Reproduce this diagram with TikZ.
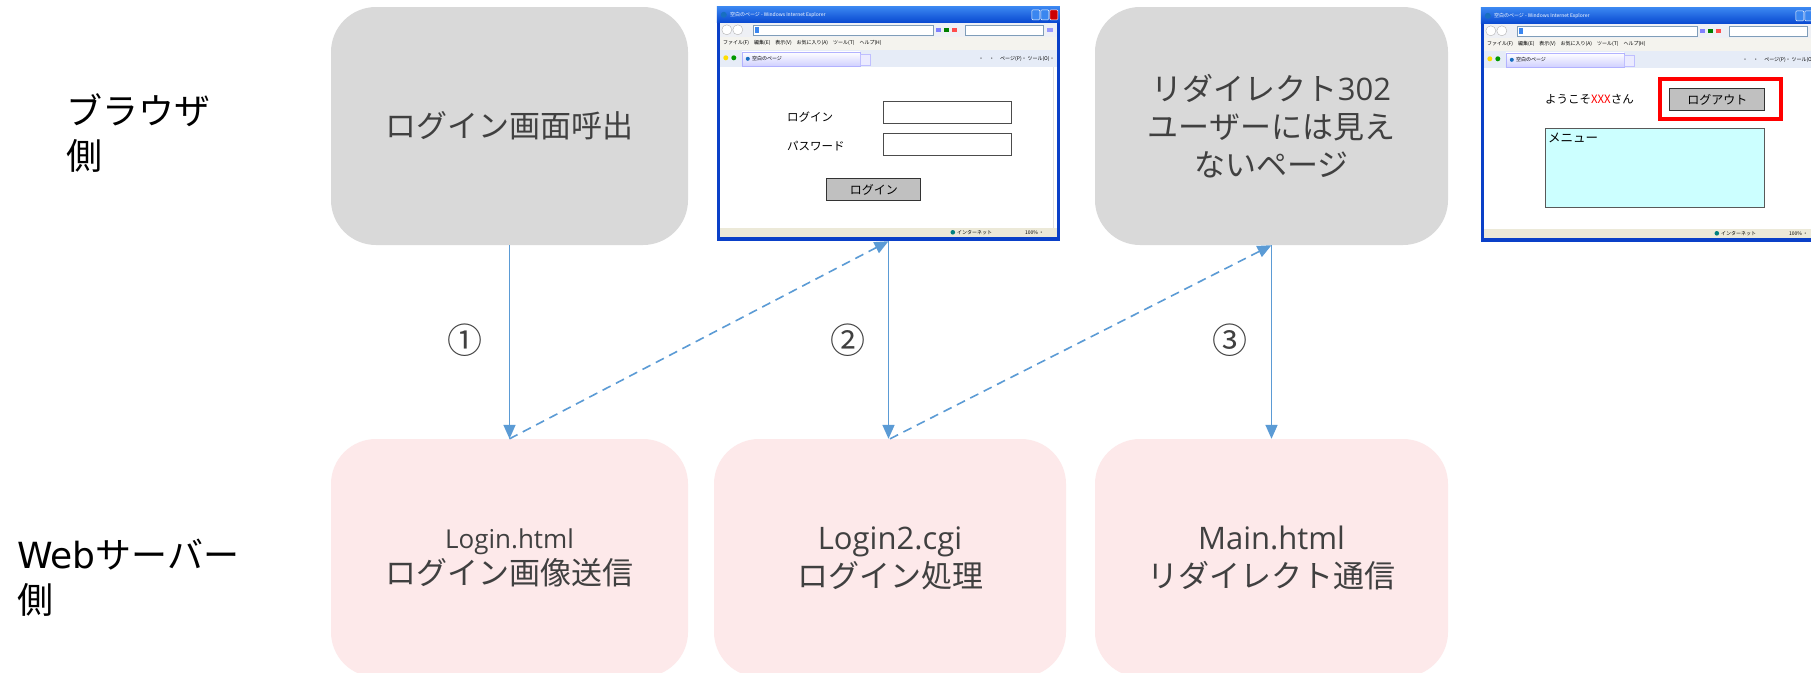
\documentclass[tikz,border=0pt]{standalone}
\usepackage{fontspec}
\setmainfont{Noto Sans CJK JP}
\newfontfamily\lat{Open Sans}
\newfontfamily\dv{DejaVu Sans}
\usetikzlibrary{arrows.meta}

\definecolor{boxgray}{HTML}{D9D9D9}
\definecolor{boxpink}{HTML}{FDE9EA}
\definecolor{txtgray}{HTML}{404040}
\definecolor{arrowblue}{HTML}{5B9BD5}
\definecolor{xpframe}{HTML}{0A40C8}
\definecolor{xptop}{HTML}{3A86F0}
\definecolor{xpbot}{HTML}{0848D0}
\definecolor{chromebg}{HTML}{EEF0F5}
\definecolor{menubg}{HTML}{F4F3EE}
\definecolor{tabbg}{HTML}{E6ECF7}
\definecolor{statusbg}{HTML}{ECE9D8}
\definecolor{fieldline}{HTML}{7F9DB9}
\definecolor{btngray}{HTML}{C0C0C0}
\definecolor{menucyan}{HTML}{CCFFFF}

% Internet Explorer window chrome, origin at the top-left corner, 343 x 234
\tikzset{
  iewin/.pic={
    \fill[xpframe] (0,0) rectangle (343,234);
    \shade[top color=xptop, bottom color=xpbot] (0,0) rectangle (343,16);
    \fill[cyan!50!blue] (7,8) circle (3);
    \node[tinytext, text=white] at (13,8) {空白のページ - Windows Internet Explorer};
    \filldraw[fill=xptop, draw=white, line width=0.4pt, rounded corners=1pt] (315,3) rectangle (323,13);
    \filldraw[fill=xptop, draw=white, line width=0.4pt, rounded corners=1pt] (324,3) rectangle (332,13);
    \filldraw[fill=red!80!black, draw=white, line width=0.4pt, rounded corners=1pt] (333,3) rectangle (341,13);
    % address row
    \fill[chromebg] (3,16) rectangle (340,30);
    \filldraw[fill=white, draw=gray!60, line width=0.4pt] (10,23) circle (5) (21,23) circle (5);
    \filldraw[fill=white, draw=fieldline, line width=0.4pt] (36,18) rectangle (216,28);
    \fill[xptop] (38,20) rectangle (42,26);
    \fill[blue!50] (219,21) rectangle (224,25);
    \fill[green!50!black] (227,21) rectangle (232,25);
    \fill[red!70] (235,21) rectangle (240,25);
    \filldraw[fill=white, draw=fieldline, line width=0.4pt] (248,18) rectangle (326,28);
    \fill[blue!40] (330,21) rectangle (336,25);
    % menu row
    \fill[menubg] (3,30) rectangle (340,43);
    \node[tinytext] at (6,36.5) {ファイル(F)\quad 編集(E)\quad 表示(V)\quad お気に入り(A)\quad ツール(T)\quad ヘルプ(H)};
    % tab row
    \fill[tabbg] (3,43) rectangle (340,60);
    \fill[yellow!80!orange] (9,51) circle (2.5);
    \fill[green!60!black] (17,51) circle (2.5);
    \shade[top color=white, bottom color=blue!18] (25,45) rectangle (143,59);
    \draw[blue!30, line width=0.4pt] (25,45) rectangle (143,59);
    \fill[cyan!50!blue] (31,52) circle (2);
    \node[tinytext] at (35,52) {空白のページ};
    \filldraw[fill=blue!8, draw=blue!25, line width=0.4pt] (143,47) rectangle (153,58);
    \node[tinytext, anchor=east] at (338,52) {\,・\,\quad ・\,\quad ページ(P)・\,ツール(O)・};
    % page area
    \fill[white] (3,60) rectangle (340,221);
    \draw[gray!25, line width=0.6pt] (336,60) -- (336,221);
    % status bar
    \fill[statusbg] (3,221) rectangle (340,230);
    \fill[green!50!blue] (236,225.5) circle (2.3);
    \node[tinytext] at (240,225.5) {インターネット};
    \node[tinytext] at (308,225.5) {100\%\,・};
  }
}

\begin{document}
\begin{tikzpicture}[x=1pt,y=-1pt,
  proc/.style={rectangle, rounded corners=45pt, minimum height=238pt, inner sep=0pt,
    align=center, text=txtgray, font=\fontsize{31}{38}\selectfont},
  browser/.style={proc, fill=boxgray},
  server/.style={proc, fill=boxpink},
  shotframe/.style={rectangle, minimum width=343pt, minimum height=234pt, inner sep=0pt},
  flow/.style={draw=arrowblue, line width=1.6pt, -{Triangle[length=14pt,width=12pt]}},
  reply/.style={flow, dash pattern=on 9pt off 6pt},
  num/.style={text=txtgray, font=\fontsize{35}{40}\selectfont, inner sep=0pt},
  sidelabel/.style={align=left, inner sep=0pt, font=\fontsize{36}{45}\selectfont, anchor=west},
  tinytext/.style={inner sep=0pt, font=\fontsize{5}{6}\selectfont, anchor=west},
  pagetext/.style={inner sep=0pt, font=\fontsize{11.5}{14}\selectfont, anchor=west},
  formfield/.style={fill=white, draw=gray!60!black, line width=0.8pt},
  formbutton/.style={fill=btngray, draw=black!80, line width=0.9pt, inner sep=0pt,
    font=\fontsize{12}{14}\selectfont},
]
\path[use as bounding box, clip] (0,0) rectangle (1811,672);
\fill[white] (0,0) rectangle (1811,672);

% side labels
\node[sidelabel] (lbrowser) at (66,133.5) {ブラウザ\\側};
\node[sidelabel] (lserver) at (17,578) {{\dv Web}サーバー\\側};

% browser-side steps
\node[browser, minimum width=357pt] (call) at (509.5,126) {ログイン画面呼出};
\node[browser, minimum width=353pt] (redir) at (1271.5,126)
  {リダイレクト{\lat 302}\\ユーザーには見え\\ないページ};

% server-side steps
\node[server, minimum width=357pt] (send) at (509.5,558)
  {{\lat\fontsize{26}{30}\selectfont Login.html}\\[-2pt]ログイン画像送信};
\node[server, minimum width=352pt] (check) at (890,558)
  {{\lat Login2.cgi}\\ログイン処理};
\node[server, minimum width=353pt] (main) at (1271.5,558)
  {{\lat Main.html}\\リダイレクト通信};

% login form window
\node[shotframe] (shot1) at (888.5,124) {};
\pic at (shot1.north west) {iewin};
\begin{scope}[shift={(shot1.north west)}]
  \node[pagetext] (ulabel) at (70,110) {ログイン};
  \node[pagetext] (plabel) at (70,139) {パスワード};
  \draw[formfield] (167,95) rectangle (295,117);
  \draw[formfield] (167,127) rectangle (295,149);
  \node[formbutton, minimum width=94pt, minimum height=22pt] (loginbtn) at (157,183) {ログイン};
\end{scope}

% main menu window
\node[shotframe] (shot2) at (1652.5,125) {};
\pic at (shot2.north west) {iewin};
\begin{scope}[shift={(shot2.north west)}]
  \node[pagetext] (welcome) at (64,91) {ようこそ\textcolor{red}{XXX}さん};
  \draw[red, line width=4.5pt] (179,71) rectangle (300,111);
  \node[formbutton, minimum width=95pt, minimum height=22pt] (logoutbtn) at (236.5,92) {ログアウト};
  \draw[fill=menucyan, draw=gray!70!black, line width=0.8pt] (65,121) rectangle (284,200);
  \node[pagetext, font=\fontsize{12.5}{14}\selectfont] (menutext) at (67,130) {メニュー};
\end{scope}

% requests
\draw[flow] (call.south) -- (send.north);
\draw[flow] (shot1.south) -- (shot1.south |- check.north);
\draw[flow] (redir.south) -- (main.north);

% responses
\draw[reply] (send.north) -- (shot1.south);
\draw[reply] (check.north) -- (redir.south);

% step numbers
\node[num] (n1) at (465,340) {①};
\node[num] (n2) at (848,340) {②};
\node[num] (n3) at (1230,340) {③};
\end{tikzpicture}
\end{document}
